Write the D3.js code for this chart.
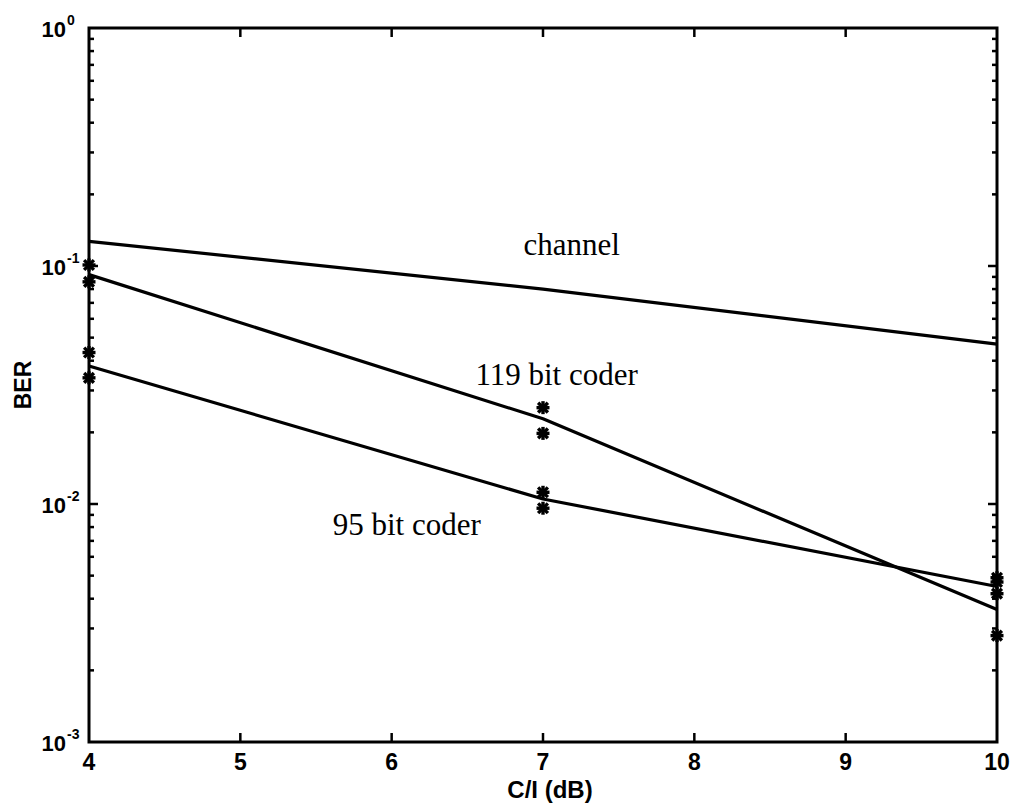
<!DOCTYPE html>
<html><head><meta charset="utf-8">
<script src="https://cdn.jsdelivr.net/npm/d3@7"></script>
<style>body{margin:0;background:#fff}</style>
</head><body>
<script>
// ---- data ----
const xValues = [4, 7, 10];
const channelBER = [0.127, 0.080, 0.047];
const coder119BER = [0.092, 0.0228, 0.0036];
const coder95BER = [0.038, 0.0105, 0.0045];
const markerX = [4, 4, 4, 4, 7, 7, 7, 7, 10, 10, 10, 10];
const markerBER = [0.101, 0.0858, 0.0433, 0.0339, 0.0254, 0.0198, 0.0112, 0.0096, 0.0049, 0.0047, 0.0042, 0.0028];
const xTicks = [4, 5, 6, 7, 8, 9, 10];
const yExponents = [0, -1, -2, -3];
const labels = [
  {text: "channel", x: 7.19, y: 0.111},
  {text: "119 bit coder", x: 7.09, y: 0.0316},
  {text: "95 bit coder", x: 6.1, y: 0.0074}
];
const xTitle = "C/I (dB)";
const yTitle = "BER";

// ---- layout ----
const W = 1016, H = 812;
const L = 89, R = 997, T = 28, B = 742;
const svg = d3.select("body").append("svg").attr("width", W).attr("height", H);
const x = d3.scaleLinear().domain([4, 10]).range([L, R]);
const y = d3.scaleLog().domain([1e-3, 1]).range([B, T]);

// minor/major y ticks (both sides)
const yTickVals = [];
for (let e = -3; e < 0; e++) for (let m = 1; m <= 9; m++) yTickVals.push(m * Math.pow(10, e));
yTickVals.push(1);
const g = svg.append("g").attr("stroke", "#000").attr("fill", "none");
yTickVals.forEach(v => {
  const major = Math.abs(Math.log10(v) - Math.round(Math.log10(v))) < 1e-9;
  const len = major ? 9 : 5;
  if (v === 1 || v === 1e-3) return;
  g.append("line").attr("x1", L).attr("x2", L + len).attr("y1", y(v)).attr("y2", y(v)).attr("stroke-width", 2.5);
  g.append("line").attr("x1", R).attr("x2", R - len).attr("y1", y(v)).attr("y2", y(v)).attr("stroke-width", 2.5);
});
xTicks.slice(1, -1).forEach(t => {
  g.append("line").attr("x1", x(t)).attr("x2", x(t)).attr("y1", B).attr("y2", B - 9).attr("stroke-width", 2.5);
  g.append("line").attr("x1", x(t)).attr("x2", x(t)).attr("y1", T).attr("y2", T + 9).attr("stroke-width", 2.5);
});
// frame
g.append("rect").attr("x", L).attr("y", T).attr("width", R - L).attr("height", B - T).attr("stroke-width", 3);

// lines
const line = d3.line().x((d, i) => x(xValues[i])).y(d => y(d));
[channelBER, coder119BER, coder95BER].forEach(s => {
  svg.append("path").datum(s).attr("d", line).attr("fill", "none").attr("stroke", "#000").attr("stroke-width", 3.2).attr("stroke-linejoin", "round");
});

// asterisk markers
const r = 6.5;
markerBER.forEach((v, i) => {
  const cx = x(markerX[i]), cy = y(v);
  const mg = svg.append("g").attr("stroke", "#000").attr("stroke-width", 3.4);
  mg.append("line").attr("x1", cx - r).attr("x2", cx + r).attr("y1", cy).attr("y2", cy);
  mg.append("line").attr("x1", cx).attr("x2", cx).attr("y1", cy - r).attr("y2", cy + r);
  mg.append("line").attr("x1", cx - r * 0.75).attr("x2", cx + r * 0.75).attr("y1", cy - r * 0.75).attr("y2", cy + r * 0.75);
  mg.append("line").attr("x1", cx - r * 0.75).attr("x2", cx + r * 0.75).attr("y1", cy + r * 0.75).attr("y2", cy - r * 0.75);
});

// x tick labels
const sans = "'Liberation Sans', Arial, sans-serif";
xTicks.forEach(t => {
  svg.append("text").attr("x", x(t)).attr("y", B + 28).attr("text-anchor", "middle")
    .attr("font-family", sans).attr("font-weight", "bold").attr("font-size", 23).text(t);
});
// y tick labels
yExponents.forEach(e => {
  const ty = y(Math.pow(10, e));
  const t = svg.append("text").attr("x", 66).attr("y", ty + 9).attr("text-anchor", "end")
    .attr("font-family", sans).attr("font-weight", "bold").attr("font-size", 22);
  t.text("10");
  svg.append("text").attr("x", 67).attr("y", ty - 3).attr("text-anchor", "start")
    .attr("font-family", sans).attr("font-weight", "bold").attr("font-size", 14)
    .text(e === 0 ? "0" : "-" + Math.abs(e));
});
// axis titles
svg.append("text").attr("x", (L + R) / 2 + 7).attr("y", 798).attr("text-anchor", "middle")
  .attr("font-family", sans).attr("font-weight", "bold").attr("font-size", 24).text(xTitle);
svg.append("text").attr("transform", `translate(31,${(T + B) / 2}) rotate(-90)`).attr("text-anchor", "middle")
  .attr("font-family", sans).attr("font-weight", "bold").attr("font-size", 23).text(yTitle);

// series labels
labels.forEach(l => {
  svg.append("text").attr("x", x(l.x)).attr("y", y(l.y)).attr("text-anchor", "middle")
    .attr("font-family", "'Liberation Serif', 'Times New Roman', serif").attr("font-size", 31).text(l.text);
});
</script>
</body></html>
